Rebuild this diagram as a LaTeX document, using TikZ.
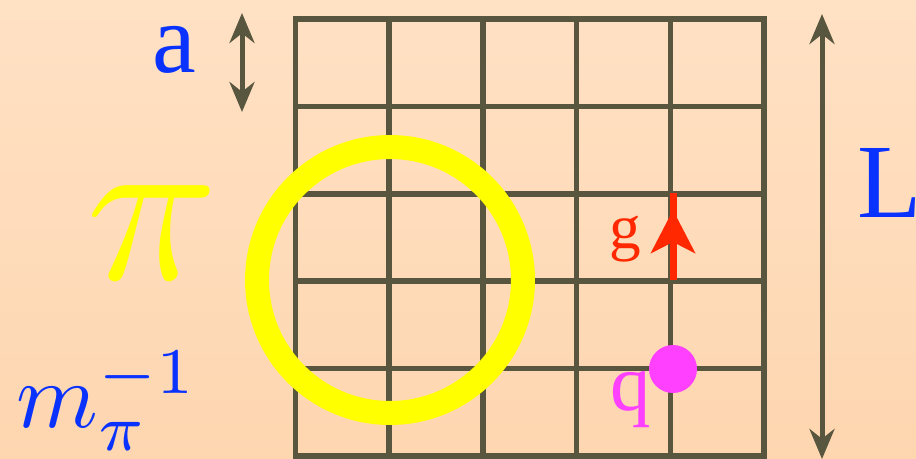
\documentclass[tikz,border=0pt]{standalone}
\usepackage{fontspec}
\setmainfont{Liberation Serif}
\usetikzlibrary{arrows.meta}

\definecolor{bgtop}{RGB}{255,225,196}
\definecolor{bgbot}{RGB}{254,214,176}
\definecolor{lattice}{RGB}{88,86,62}
\definecolor{labelblue}{RGB}{10,50,255}
\definecolor{pionyellow}{RGB}{255,255,0}
\definecolor{gluonred}{RGB}{255,40,0}
\definecolor{quarkpink}{RGB}{255,64,255}

\begin{document}
\begin{tikzpicture}[x=0.02cm, y=-0.02cm,
  gridline/.style={draw=lattice, line width=0.11cm},
  dim/.style={{Stealth[length=0.6cm,width=0.5cm]}-{Stealth[length=0.6cm,width=0.5cm]}, draw=lattice, line width=0.1cm},
  lbl/.style={inner sep=0pt, anchor=base west},
  ring/.style={draw=pionyellow, line width=0.48cm},
  link/.style={draw=gluonred, line width=0.14cm}
]
  \useasboundingbox (0,0) rectangle (916,458);
  \shade[top color=bgtop, bottom color=bgbot] (0,0) rectangle (916,458);

  \foreach \i in {0,...,5} {
    \draw[gridline] (295.5+93.7*\i,19) -- (295.5+93.7*\i,456);
    \draw[gridline] (293,19+87.4*\i) -- (767,19+87.4*\i);
  }

  \coordinate (aTop) at (242,13);
  \coordinate (aBot) at (242,112);
  \coordinate (LTop) at (822,14);
  \coordinate (LBot) at (822,459);
  \draw[dim] (aTop) -- (aBot);
  \draw[dim] (LTop) -- (LBot);

  \coordinate (pionC) at (390,280);
  \draw[ring] (pionC) circle (2.66cm);

  \coordinate (gBot) at (673,280);
  \coordinate (gTip) at (673,210);
  \coordinate (gTop) at (673,193);
  \draw[link] (gBot) -- (gTop);
  \draw[link, -{Stealth[length=0.86cm,width=0.88cm,inset=0.22cm]}] (gBot) -- (gTip);

  \node[circle, fill=quarkpink, inner sep=0pt, minimum size=0.96cm] (qDot) at (673,369) {};

  \node[lbl, text=labelblue, font=\fontsize{56}{60}\selectfont] (lblA) at (152,72) {a};
  \node[lbl, text=labelblue, font=\fontsize{60}{66}\selectfont] (lblL) at (857,217) {L};
  \node[lbl, text=pionyellow, scale=12.4] (lblPi) at (82,279) {$\pi$};
  \node[lbl, text=labelblue, scale=5.3] (lblMass) at (15,427) {$m_\pi^{-1}$};
  \node[lbl, text=gluonred, font=\fontsize{36}{40}\selectfont] (lblG) at (609,248) {g};
  \node[lbl, text=quarkpink, font=\fontsize{46}{50}\selectfont] (lblQ) at (610,410) {q};
\end{tikzpicture}
\end{document}
